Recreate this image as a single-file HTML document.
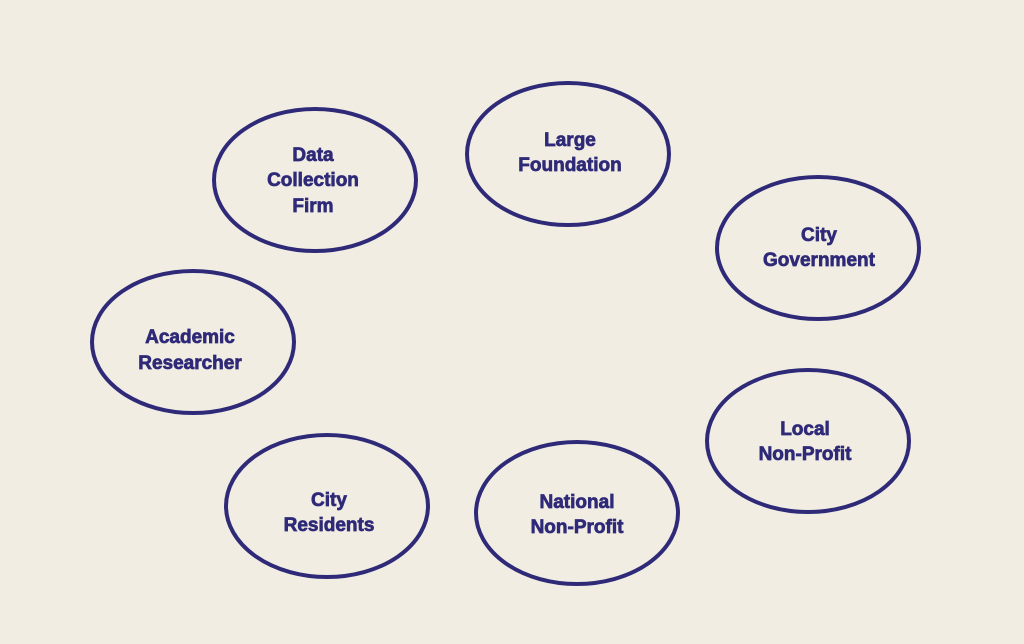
<!DOCTYPE html>
<html><head><meta charset="utf-8"><style>
html,body{margin:0;padding:0;background:#f2ede3;}
svg{display:block}
text{font-family:"Liberation Sans",sans-serif;font-weight:bold;font-size:19px;fill:#2e2a78;stroke:#2e2a78;stroke-width:0.7;text-anchor:middle;}
</style></head><body>
<svg width="1024" height="644" viewBox="0 0 1024 644">
<rect width="1024" height="644" fill="#f2ede3"/>
<g fill="none" stroke="#2e2a78" stroke-width="4">
<ellipse cx="315" cy="180" rx="101" ry="71"/>
<ellipse cx="568" cy="154" rx="101" ry="71"/>
<ellipse cx="818" cy="248" rx="101" ry="71"/>
<ellipse cx="193" cy="342" rx="101" ry="71"/>
<ellipse cx="808" cy="441" rx="101" ry="71"/>
<ellipse cx="327" cy="506" rx="101" ry="71"/>
<ellipse cx="577" cy="513" rx="101" ry="71"/>
</g>
<text x="313" y="161">Data</text>
<text x="313" y="186">Collection</text>
<text x="313" y="212">Firm</text>
<text x="570" y="146">Large</text>
<text x="570" y="171">Foundation</text>
<text x="819" y="241">City</text>
<text x="819" y="266">Government</text>
<text x="190" y="343">Academic</text>
<text x="190" y="369">Researcher</text>
<text x="805" y="435">Local</text>
<text x="805" y="460">Non-Profit</text>
<text x="329" y="506">City</text>
<text x="329" y="531">Residents</text>
<text x="577" y="508">National</text>
<text x="577" y="533">Non-Profit</text>
</svg>
</body></html>
